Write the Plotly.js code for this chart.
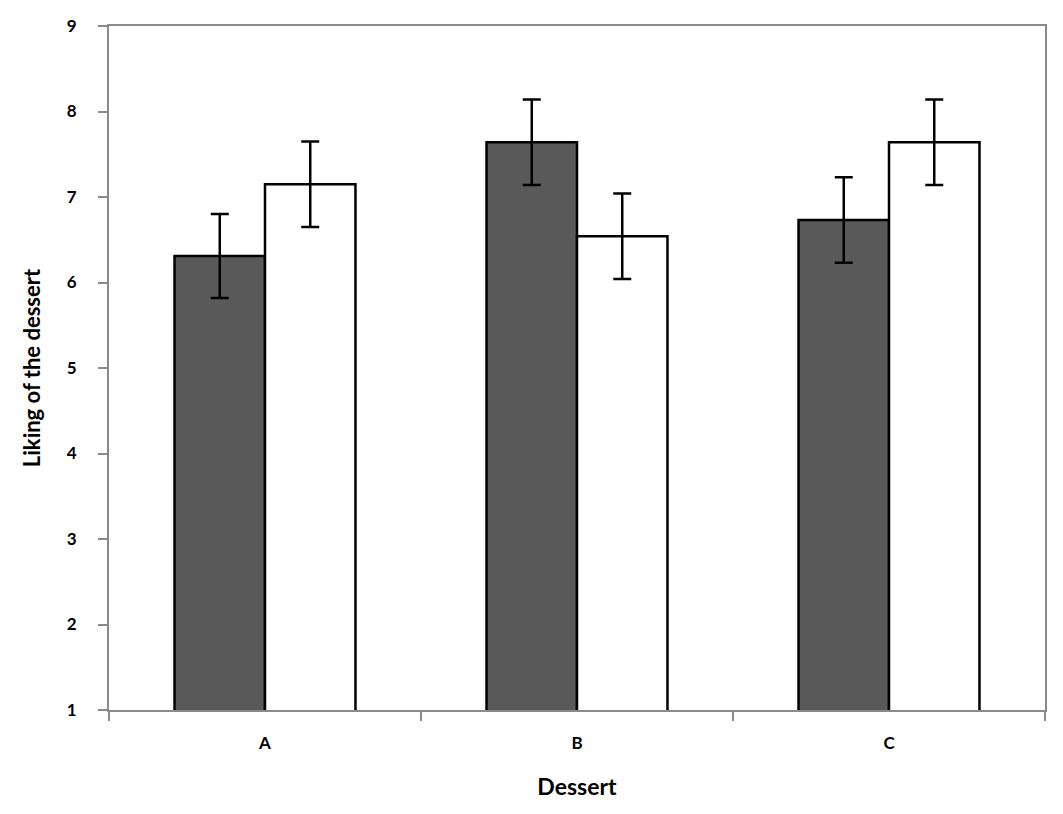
<!DOCTYPE html>
<html>
<head>
<meta charset="utf-8">
<script src="https://cdn.plot.ly/plotly-3.0.1.min.js"></script>
<style>
  html, body { margin: 0; padding: 0; background: #fff; }
  #chart { width: 1063px; height: 814px; }
</style>
</head>
<body>
<div id="chart"></div>
<script>
// desserts on the x axis, two conditions per dessert
const desserts = ['A', 'B', 'C'];
const darkMeans = [6.31, 7.64, 6.73];
const darkErrors = [0.49, 0.5, 0.5];
const whiteMeans = [7.15, 6.54, 7.64];
const whiteErrors = [0.5, 0.5, 0.5];
const yTicks = [1, 2, 3, 4, 5, 6, 7, 8, 9];

const axisGray = '#8a8a8a';
const fontFamily = 'Lato, "Open Sans", sans-serif';

function barTrace(values, errors, fill) {
    return {
        type: 'bar',
        x: desserts,
        y: values,
        base: 0,
        marker: { color: fill, line: { color: '#000', width: 2.5 } },
        error_y: {
            type: 'data',
            array: errors,
            visible: true,
            color: '#000',
            thickness: 2.5,
            width: 9
        },
        hoverinfo: 'skip'
    };
}

const traces = [
    barTrace(darkMeans, darkErrors, '#595959'),
    barTrace(whiteMeans, whiteErrors, '#ffffff')
];

const layout = {
    width: 1063,
    height: 814,
    paper_bgcolor: '#fff',
    plot_bgcolor: '#fff',
    showlegend: false,
    barmode: 'group',
    bargap: 0.42,
    bargroupgap: 0,
    margin: { t: 26, l: 109, r: 18, b: 104 },
    font: { family: fontFamily, color: '#000' },
    xaxis: {
        type: 'category',
        range: [-0.5, 2.5],
        tickson: 'boundaries',
        ticks: 'outside',
        ticklen: 9,
        tickwidth: 2,
        tickcolor: axisGray,
        showline: true,
        mirror: true,
        linecolor: axisGray,
        linewidth: 2,
        showgrid: false,
        zeroline: false,
        tickfont: { size: 17, family: fontFamily, weight: 'bold' },
        ticklabelstandoff: 17,
        title: { text: '<b>Dessert</b>', font: { size: 23 }, standoff: 26 }
    },
    yaxis: {
        range: [1, 9],
        tickvals: yTicks,
        ticks: 'outside',
        ticklen: 9,
        tickwidth: 2,
        tickcolor: axisGray,
        showline: true,
        mirror: true,
        linecolor: axisGray,
        linewidth: 2,
        showgrid: false,
        zeroline: false,
        tickfont: { size: 17, family: fontFamily, weight: 'bold' },
        ticklabelstandoff: 18,
        title: { text: '<b>Liking of the dessert</b>', font: { size: 22 }, standoff: 20 }
    }
};

Plotly.newPlot('chart', traces, layout, { displayModeBar: false, staticPlot: true });
</script>
</body>
</html>
